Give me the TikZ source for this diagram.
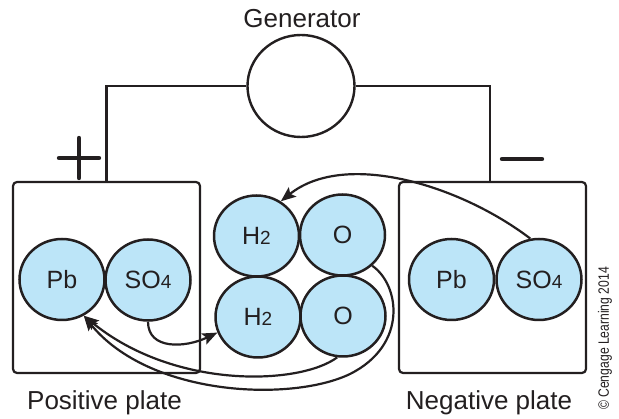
\documentclass[tikz,border=0pt]{standalone}
\usepackage{fontspec}
\setmainfont{Liberation Sans}
\usetikzlibrary{shapes.geometric,arrows.meta,calc}
\definecolor{ionblue}{RGB}{188,229,248}
\definecolor{ink}{RGB}{35,31,32}
\newcommand{\ionsub}[1]{{\fontsize{19}{19}\selectfont #1}}
\begin{document}
\begin{tikzpicture}[x=1pt,y=-1pt,
  ion/.style={ellipse, draw=ink, line width=2.5pt, fill=ionblue, minimum width=85pt, minimum height=81pt, inner sep=0pt, font=\fontsize{25}{25}\selectfont, text=ink},
  plate/.style={draw=ink, line width=2.2pt, rounded corners=4pt, minimum width=187pt, minimum height=191pt, inner sep=0pt},
  genbox/.style={ellipse, draw=ink, line width=2.4pt, minimum width=107pt, minimum height=102pt, inner sep=0pt},
  wire/.style={draw=ink, line width=2.2pt},
  flow/.style={draw=ink, line width=2.2pt, -{Stealth[length=15pt,width=12pt,inset=3pt]}},
  sign/.style={draw=ink, line width=4.4pt, line cap=round},
  platetext/.style={font=\fontsize{26}{26}\selectfont, text=ink, anchor=base, inner sep=0pt},
  copytext/.style={font=\fontsize{15}{15}\selectfont, text=ink, rotate=90, inner sep=0pt}]
\useasboundingbox (0,0) rectangle (619,419);

% plates
\node[plate] (lbox) at (106.5,277.5) {};
\node[plate] (rbox) at (492.5,277.5) {};

% generator
\node[genbox] (gen) at (301,86) {};
\node[platetext] (gentext) at (302,28) {Generator};
\draw[wire] (gen.west) -| ($(lbox.north west)+(94.5,0)$);
\draw[wire] (gen.east) -| ($(rbox.north west)+(92,0)$);

% signs
\draw[sign] (59,158) -- (99,158) (79,138) -- (79,178);
\draw[sign] (502,159) -- (542,159);

% ions
\node[ion] (lpb) at (62,279.5) {Pb};
\node[ion] (lso) at (148,280) {SO\ionsub{4}};
\node[ion] (h2a) at (256.5,236) {H\ionsub{2}};
\node[ion] (oa) at (342.5,235) {O};
\node[ion] (h2b) at (258,317) {H\ionsub{2}};
\node[ion] (ob) at (343,316) {O};
\node[ion] (rpb) at (451.5,279.5) {Pb};
\node[ion] (rso) at (539,279.5) {SO\ionsub{4}};

% flows
\draw[flow] (rso.102) .. controls (460,185) and (345,150) .. (h2a.55);
\draw[flow] (lso.270) .. controls (148,350) and (185,348) .. (h2b.201);
\draw[flow] (oa.-46) .. controls (400,285) and (408,345) .. (350,374)
   .. controls (292,402) and (150,397) .. (lpb.-59);
\draw[flow] (ob.-98) .. controls (300,385) and (175,390) .. (lpb.-59);

% texts
\node[platetext] (ptext) at (104.5,410) {Positive plate};
\node[platetext] (ntext) at (489,410) {Negative plate};
\node[copytext] (copy) at (605,338.5) {\scalebox{0.81}[1]{© Cengage Learning 2014}};
\end{tikzpicture}
\end{document}
